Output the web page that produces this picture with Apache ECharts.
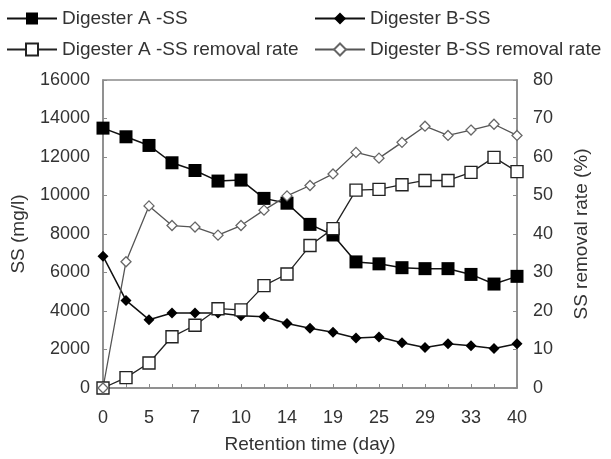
<!DOCTYPE html>
<html>
<head>
<meta charset="utf-8">
<script src="https://cdn.jsdelivr.net/npm/echarts@6/dist/echarts.min.js"></script>
<style>
html,body{margin:0;padding:0;background:#fff;}
#chart{width:611px;height:459px;}
</style>
</head>
<body>
<div id="chart"></div>
<script>
// Categories (retention time, day); only every other label is printed on the axis
const days = ['0','2','5','6','7','9','10','12','14','17','19','22','25','27','29','31','33','36','40'];
const seriesNames = ['Digester A -SS','Digester B-SS','Digester A -SS removal rate','Digester B-SS removal rate'];
// SS concentration (mg/l), left axis
const digesterA_SS = [13500,13050,12600,11700,11300,10750,10800,9850,9600,8500,7950,6550,6450,6250,6200,6200,5900,5400,5800];
const digesterB_SS = [6850,4550,3550,3900,3900,3900,3750,3700,3350,3100,2900,2600,2650,2350,2100,2300,2200,2050,2300];
// SS removal rate (%), right axis
const digesterA_rate = [0,2.7,6.5,13.3,16.3,20.6,20.3,26.6,29.6,37,41.4,51.4,51.6,52.8,53.9,53.9,56,59.9,56.2];
const digesterB_rate = [0,32.8,47.3,42.2,41.8,39.7,42.2,46.2,49.9,52.6,55.6,61.2,59.7,63.8,68,65.6,67,68.5,65.6];

const FONT = 'Liberation Sans, Arial, sans-serif';
const TXT = '#333333';
const AX = '#8a8a8a';

const chart = echarts.init(document.getElementById('chart'), null, {renderer:'canvas'});
const legendCommon = {
  orient: 'vertical',
  itemWidth: 50,
  itemHeight: 15,
  itemGap: 12,
  padding: 0,
  textStyle: {fontFamily: FONT, fontSize: 19, color: TXT},
  selectedMode: false
};
chart.setOption({
  backgroundColor: '#ffffff',
  animation: false,
  legend: [
    Object.assign({left: 6, top: 9, data: [seriesNames[0], seriesNames[2]]}, legendCommon),
    Object.assign({left: 314, top: 9, data: [seriesNames[1], seriesNames[3]]}, legendCommon)
  ],
  grid: {left: 103, right: 94, top: 80, bottom: 67, show: true, borderColor: AX, borderWidth: 1.5, backgroundColor: 'transparent'},
  xAxis: {
    type: 'category',
    data: days,
    boundaryGap: false,
    name: 'Retention time (day)',
    nameLocation: 'middle',
    nameGap: 47,
    nameTextStyle: {fontFamily: FONT, fontSize: 19, color: TXT},
    axisLine: {lineStyle: {color: AX, width: 1.5}},
    axisTick: {inside: true, length: 4, interval: 0, lineStyle: {color: AX}},
    axisLabel: {interval: 1, margin: 21, fontFamily: FONT, fontSize: 18, color: TXT},
    splitLine: {show: false}
  },
  yAxis: [
    {
      type: 'value', min: 0, max: 16000, interval: 2000,
      name: 'SS (mg/l)', nameLocation: 'middle', nameRotate: 90, nameGap: 75,
      nameTextStyle: {fontFamily: FONT, fontSize: 19, color: TXT},
      axisLine: {show: true, lineStyle: {color: AX, width: 1.5}},
      axisTick: {show: true, inside: true, length: 4, lineStyle: {color: AX}},
      axisLabel: {margin: 13, fontFamily: FONT, fontSize: 18, color: TXT, formatter: function (v) { return String(v); }},
      splitLine: {show: false}
    },
    {
      type: 'value', min: 0, max: 80, interval: 10, position: 'right',
      name: 'SS removal rate (%)', nameLocation: 'middle', nameRotate: 90, nameGap: 55,
      nameTextStyle: {fontFamily: FONT, fontSize: 19, color: TXT},
      axisLine: {show: true, lineStyle: {color: AX, width: 1.5}},
      axisTick: {show: true, inside: true, length: 4, lineStyle: {color: AX}},
      axisLabel: {margin: 16, fontFamily: FONT, fontSize: 18, color: TXT},
      splitLine: {show: false}
    }
  ],
  series: [
    {
      name: seriesNames[0], type: 'line', yAxisIndex: 0, data: digesterA_SS,
      symbol: 'rect', symbolSize: 13, showAllSymbol: true,
      lineStyle: {color: '#111', width: 1.5},
      itemStyle: {color: '#000', borderColor: '#000', borderWidth: 0}
    },
    {
      name: seriesNames[1], type: 'line', yAxisIndex: 0, data: digesterB_SS,
      symbol: 'diamond', symbolSize: 11, showAllSymbol: true,
      lineStyle: {color: '#111', width: 1.5},
      itemStyle: {color: '#000', borderColor: '#000', borderWidth: 0}
    },
    {
      name: seriesNames[2], type: 'line', yAxisIndex: 1, data: digesterA_rate,
      symbol: 'rect', symbolSize: 12, showAllSymbol: true,
      lineStyle: {color: '#222', width: 1.3},
      itemStyle: {color: '#fff', borderColor: '#222', borderWidth: 1.4}
    },
    {
      name: seriesNames[3], type: 'line', yAxisIndex: 1, data: digesterB_rate,
      symbol: 'diamond', symbolSize: 10, showAllSymbol: true,
      lineStyle: {color: '#555', width: 1.3},
      itemStyle: {color: '#fff', borderColor: '#666', borderWidth: 1.3}
    }
  ]
});
</script>
</body>
</html>
